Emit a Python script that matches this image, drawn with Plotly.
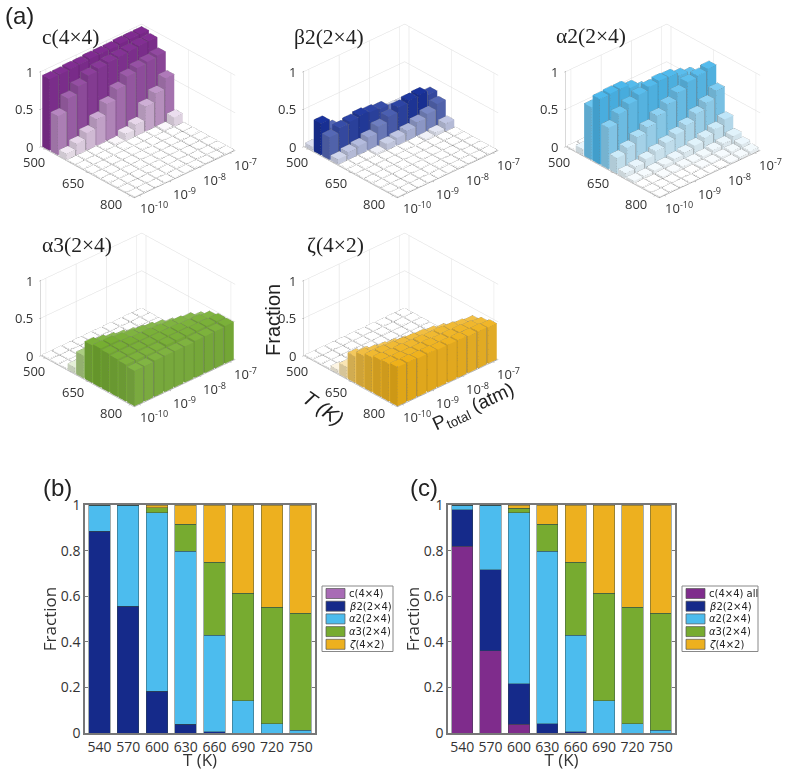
import numpy as np
import plotly.graph_objects as go

T_VALUES = [500, 530, 560, 590, 620, 650, 680, 710, 740, 770, 800]
LOG_P = [-10, -9.667, -9.333, -9, -8.667, -8.333, -8, -7.667, -7.333, -7]

C44 = [
    [.95, .95, .96, .96, .97, .97, .97, .98, .98, .98],
    [.52, .69, .79, .87, .90, .92, .93, .94, .95, .95],
    [.08, .15, .23, .35, .49, .62, .73, .78, .80, .82],
    [0, 0, 0, 0, .02, .09, .15, .33, .44, .58],
    [0, 0, 0, 0, 0, 0, 0, 0, .02, .12],
    [0] * 10, [0] * 10, [0] * 10, [0] * 10, [0] * 10, [0] * 10,
]
BETA2 = [
    [.05, .04, .03, .03, .03, .02, .02, .04, .06, .06],
    [.42, .30, .20, .13, .10, .08, .07, .06, .05, .05],
    [.30, .36, .38, .40, .38, .36, .27, .22, .20, .18],
    [.07, .10, .12, .17, .25, .32, .38, .41, .42, .36],
    [.01, .01, .01, .02, .08, .10, .13, .18, .23, .30],
    [0, 0, 0, 0, 0, .01, .01, .02, .04, .10],
    [0] * 10, [0] * 10, [0] * 10, [0] * 10, [0] * 10,
]
ALPHA2 = [
    [0] * 10,
    [.08, .02, .01, 0, 0, 0, 0, 0, 0, 0],
    [.70, .75, .75, .70, .55, .40, .25, .15, .10, .08],
    [.87, .88, .88, .83, .75, .65, .55, .45, .35, .30],
    [.55, .67, .74, .80, .84, .86, .85, .80, .75, .68],
    [.21, .28, .36, .43, .52, .61, .70, .78, .80, .83],
    [.07, .09, .13, .17, .22, .27, .33, .42, .50, .60],
    [.03, .03, .04, .05, .07, .09, .12, .16, .21, .28],
    [.01, .01, .02, .02, .03, .03, .04, .06, .08, .12],
    [.01, .01, .01, .01, .01, .02, .02, .03, .04, .07],
    [0, 0, 0, 0, 0, .01, .01, .02, .03, .04],
]
ALPHA3 = [
    [0] * 10, [0] * 10, [0] * 10,
    [.08, .05, .03, .01, .01, 0, 0, 0, 0, 0],
    [.30, .22, .15, .10, .07, .04, .02, .01, .01, .01],
    [.50, .47, .44, .41, .38, .35, .30, .22, .15, .10],
    [.52, .52, .50, .48, .47, .45, .42, .38, .33, .25],
    [.51, .51, .51, .50, .50, .49, .48, .47, .45, .40],
    [.50, .50, .50, .50, .50, .50, .50, .49, .49, .47],
    [.49, .49, .49, .49, .50, .50, .50, .50, .50, .50],
    [.47, .47, .48, .48, .48, .48, .49, .49, .49, .50],
]
ZETA = [
    [0] * 10, [0] * 10, [0] * 10,
    [.05, .03, .01, 0, 0, 0, 0, 0, 0, 0],
    [.15, .10, .07, .04, .02, .01, 0, 0, 0, 0],
    [.35, .32, .28, .24, .20, .15, .10, .06, .04, .02],
    [.42, .40, .38, .36, .33, .30, .27, .22, .17, .12],
    [.46, .46, .45, .44, .43, .42, .40, .37, .33, .30],
    [.49, .48, .48, .47, .47, .46, .46, .45, .43, .41],
    [.50, .50, .49, .49, .49, .48, .48, .48, .47, .45],
    [.52, .52, .51, .51, .50, .50, .50, .49, .49, .48],
]

CATS = ["540", "570", "600", "630", "660", "690", "720", "750"]
B_C44 = [0, 0, 0, 0, 0, 0, 0, 0]
B_BETA2 = [.885, .555, .183, .038, .005, 0, 0, 0]
B_ALPHA2 = [.115, .443, .782, .760, .423, .142, .040, .012]
B_ALPHA3 = [0, 0, .022, .118, .322, .470, .512, .514]
B_ZETA = [0, .002, .013, .084, .250, .388, .448, .474]
C_C44 = [.820, .360, .038, 0, 0, 0, 0, 0]
C_BETA2 = [.160, .355, .178, .040, .005, 0, 0, 0]
C_ALPHA2 = [.020, .283, .750, .758, .423, .142, .040, .012]
C_ALPHA3 = [0, 0, .020, .118, .322, .470, .512, .514]
C_ZETA = [0, .002, .014, .084, .250, .388, .448, .474]

W, H = 787, 771
PURPLE, NAVY, SKY, GREEN, AMBER = "#7F2C8C", "#152A8A", "#4CBCEE", "#77AB30", "#EDB01F"
PANELS = [
    ("scene", C44, "#7F2A90", "c(4×4)", 138, 111, 40, 37),
    ("scene2", BETA2, "#1A339C", "β2(2×4)", 401, 111, 292, 37),
    ("scene3", ALPHA2, "#4CB8EC", "α2(2×4)", 663, 111, 554, 36),
    ("scene4", ALPHA3, "#76AE32", "α3(2×4)", 138, 320, 40, 245),
    ("scene5", ZETA, "#EFB11A", "ζ(4×2)", 401, 320, 305, 245),
]


def mix(rgb, t, k=1.0):
    base = np.array([255, 255, 255]) * (1 - t) + np.array(rgb) * t
    return "rgb(%d,%d,%d)" % tuple(np.clip(base * k, 0, 255).astype(int))


def bars(values, scene, color):
    rgb = [int(color[i:i + 2], 16) for i in (1, 3, 5)]
    z = np.maximum(np.array(values, float), 0.012)
    top = np.max(values)
    dx, dy = 30 * 0.43, (1 / 3) * 0.43
    xs, ys, zs, ii, jj, kk, cols = [], [], [], [], [], [], []
    lx, ly, lz = [], [], []
    for r, t in enumerate(T_VALUES):
        for c, p in enumerate(LOG_P):
            h = z[r, c]
            n = len(xs)
            corners = [(t - dx, p - dy), (t + dx, p - dy), (t + dx, p + dy), (t - dx, p + dy)]
            for level in (0, h):
                for a, b in corners:
                    xs.append(a); ys.append(b); zs.append(level)
            tint = min(1, h / top) ** 0.9 if h > 0.012 else 0
            faces = [
                ((4, 5, 6), 1.0), ((4, 6, 7), 1.0),
                ((1, 2, 6), 0.94), ((1, 6, 5), 0.94),
                ((0, 1, 5), 0.86), ((0, 5, 4), 0.86),
            ]
            for (a, b, d), k in faces:
                ii.append(n + a); jj.append(n + b); kk.append(n + d)
                cols.append(mix(rgb, tint, k if tint > 0 else 1.0 - (1 - k) * 0.6))
            for a, b in [(4, 5), (5, 6), (6, 7), (7, 4), (0, 1), (1, 2), (1, 5), (0, 4), (2, 6)]:
                lx += [xs[n + a], xs[n + b], None]
                ly += [ys[n + a], ys[n + b], None]
                lz += [zs[n + a], zs[n + b], None]
    mesh = go.Mesh3d(
        x=xs, y=ys, z=zs, i=ii, j=jj, k=kk, facecolor=cols, flatshading=True, scene=scene,
        lighting=dict(ambient=1, diffuse=0, specular=0, fresnel=0, roughness=1),
        hoverinfo="skip", showscale=False,
    )
    edges = go.Scatter3d(
        x=lx, y=ly, z=lz, mode="lines", scene=scene, showlegend=False, hoverinfo="skip",
        line=dict(color="rgba(85,85,85,0.7)", width=1),
    )
    return [mesh, edges]


fig = go.Figure()
annotations = []
shapes = []


def px(x, y):
    return x / W, 1 - y / H


def note(text, x, y, size, family="Liberation Sans", color="#222", angle=0, anchor="left"):
    ax, ay = px(x, y)
    annotations.append(dict(
        text=text, x=ax, y=ay, xref="paper", yref="paper", showarrow=False, xanchor=anchor,
        yanchor="middle", textangle=angle, font=dict(size=size, family=family, color=color),
    ))


def tick_notes():
    font = dict(size=13, family="Open Sans", color="#333")
    out = []
    base = dict(showarrow=False, font=font, xanchor="center", yanchor="middle")
    for t, label, (sx, sy) in zip([500, 650, 800], ["500", "650", "800"], [(-11, -13), (-15, -11), (-19, -8)]):
        out.append(dict(base, x=t, y=-10.17, z=0, text=label, xshift=sx, yshift=sy))
    for p, label in zip([-10, -9, -8, -7],
                        ["10<sup>-10</sup>", "10<sup>-9</sup>", "10<sup>-8</sup>", "10<sup>-7</sup>"]):
        out.append(dict(base, x=815, y=p, z=0, text=label, xshift=15, yshift=-12))
    for v, label in zip([0, 0.5, 1], ["0", "0.5", "1"]):
        out.append(dict(base, x=485, y=-10.17, z=v, text=label, xanchor="right", xshift=-6, yshift=0))
    return out


layout_extra = {}
for name, values, color, title, cx, cy, tx, ty in PANELS:
    fig.add_traces(bars(values, name, color))
    bw, bh = 120, 105
    x0, y1 = px(cx - bw, cy - bh)
    x1, y0 = px(cx + bw, cy + bh)
    axis = dict(
        showbackground=False, showgrid=True, gridcolor="#dcdcdc", gridwidth=1, zeroline=False,
        showspikes=False, title=dict(text=""), showline=True, linecolor="#9a9a9a",
        showticklabels=False, ticks="outside", ticklen=2, tickcolor="#888",
    )
    layout_extra[name] = dict(
        domain=dict(x=[x0, x1], y=[y0, y1]),
        aspectmode="manual", aspectratio=dict(x=1.31, y=1.31, z=0.83),
        camera=dict(eye=dict(x=1.08, y=-1.0, z=0.867), center=dict(x=0, y=0, z=0),
                    up=dict(x=0, y=0, z=1), projection=dict(type="orthographic")),
        xaxis=dict(axis, range=[485, 815], tickvals=[500, 650, 800]),
        yaxis=dict(axis, range=[-10.17, -6.83], tickvals=[-10, -9, -8, -7]),
        zaxis=dict(axis, range=[0, 1], tickvals=[0, 0.5, 1]),
        annotations=tick_notes(),
    )
    note(title, tx, ty, 21.5, family="Liberation Serif", color="#222")

GROUPS = [
    ("x", "y", [B_C44, B_BETA2, B_ALPHA2, B_ALPHA3, B_ZETA]),
    ("x2", "y2", [C_C44, C_BETA2, C_ALPHA2, C_ALPHA3, C_ZETA]),
]
B_LEGEND = ["c(4×4)", "<i>β</i>2(2×4)", "<i>α</i>2(2×4)", "<i>α</i>3(2×4)", "<i>ζ</i>(4×2)"]
C_LEGEND = ["c(4×4) all", "<i>β</i>2(2×4)", "<i>α</i>2(2×4)", "<i>α</i>3(2×4)", "<i>ζ</i>(4×2)"]
B_COLORS = ["#A86BB5", NAVY, SKY, GREEN, AMBER]
C_COLORS = [PURPLE, NAVY, SKY, GREEN, AMBER]
for (xa, ya, series), labels, colors in zip(GROUPS, [B_LEGEND, C_LEGEND], [B_COLORS, C_COLORS]):
    for label, vals, col in zip(labels, series, colors):
        fig.add_trace(go.Bar(
            x=CATS, y=vals, name=label, xaxis=xa, yaxis=ya, showlegend=False,
            marker=dict(color=col, line=dict(color="rgba(50,70,70,0.55)", width=0.8)),
        ))


def legend(box, labels, colors):
    left, right, top, bottom = box
    x0, y0 = px(left, bottom)
    x1, y1 = px(right, top)
    shapes.append(dict(type="rect", xref="paper", yref="paper", x0=x0, x1=x1, y0=y0, y1=y1,
                       line=dict(color="#888", width=1), fillcolor="white"))
    for i, (label, col) in enumerate(zip(labels, colors)):
        yc = top + 7.5 + 12.7 * i
        sx0, sy0 = px(left + 4, yc + 5)
        sx1, sy1 = px(left + 23, yc - 5)
        shapes.append(dict(type="rect", xref="paper", yref="paper", x0=sx0, x1=sx1, y0=sy0, y1=sy1,
                           line=dict(color="#555", width=0.7), fillcolor=col))
        note(label, left + 25, yc, 10, family="DejaVu Sans", color="#222")


legend((322, 393, 586, 651.5), B_LEGEND, B_COLORS)
legend((682, 758, 586, 651.5), C_LEGEND, C_COLORS)


def axes(left, right):
    xd = [left / W, right / W]
    yd = [1 - 733 / H, 1 - 505 / H]
    ax_x = dict(domain=xd, showline=True, mirror=True, linecolor="#777", linewidth=1.5, ticks="",
                automargin=False,
                tickfont=dict(size=14, family="Open Sans", color="#333"),
                title=dict(text="T (K)", standoff=4, font=dict(size=17, family="Open Sans", color="#333")),
                range=[-0.5, 7.5], type="category")
    ax_y = dict(domain=yd, showline=True, mirror="ticks", linecolor="#777", linewidth=1.5, ticks="inside",
                automargin=False, ticklen=3, tickcolor="#777", range=[0, 1], tickvals=[0, .2, .4, .6, .8, 1],
                ticktext=["0", "0.2", "0.4", "0.6", "0.8", "1"], showgrid=False, zeroline=False,
                tickfont=dict(size=14, family="Open Sans", color="#333"),
                title=dict(text="Fraction", standoff=0, font=dict(size=17, family="Open Sans", color="#333")))
    return ax_x, ax_y


xa1, ya1 = axes(85, 315)
xa2, ya2 = axes(448, 675)
ya2["anchor"] = "x2"
xa2["anchor"] = "y2"

note("(a)", 3, 15, 24, color="#222")
note("(b)", 41, 487, 24, color="#222")
note("(c)", 408, 487, 24, color="#222")
note("Fraction", 273, 320, 20, angle=-90, anchor="center")
note("<i>T (K)</i>", 323, 408, 20, angle=35, anchor="center")
note("P<sub>total</sub> (atm)", 473, 408, 19, angle=-25, anchor="center")

fig.update_layout(
    width=W, height=H, margin=dict(l=0, r=0, t=0, b=0), paper_bgcolor="white", plot_bgcolor="white",
    barmode="stack", bargap=0.25, showlegend=False, annotations=annotations, shapes=shapes,
    xaxis=xa1, yaxis=ya1, xaxis2=xa2, yaxis2=ya2,
    **layout_extra,
)
fig.write_html("out.html", config=dict(displayModeBar=False),
               post_script="document.body.style.margin='0';")
